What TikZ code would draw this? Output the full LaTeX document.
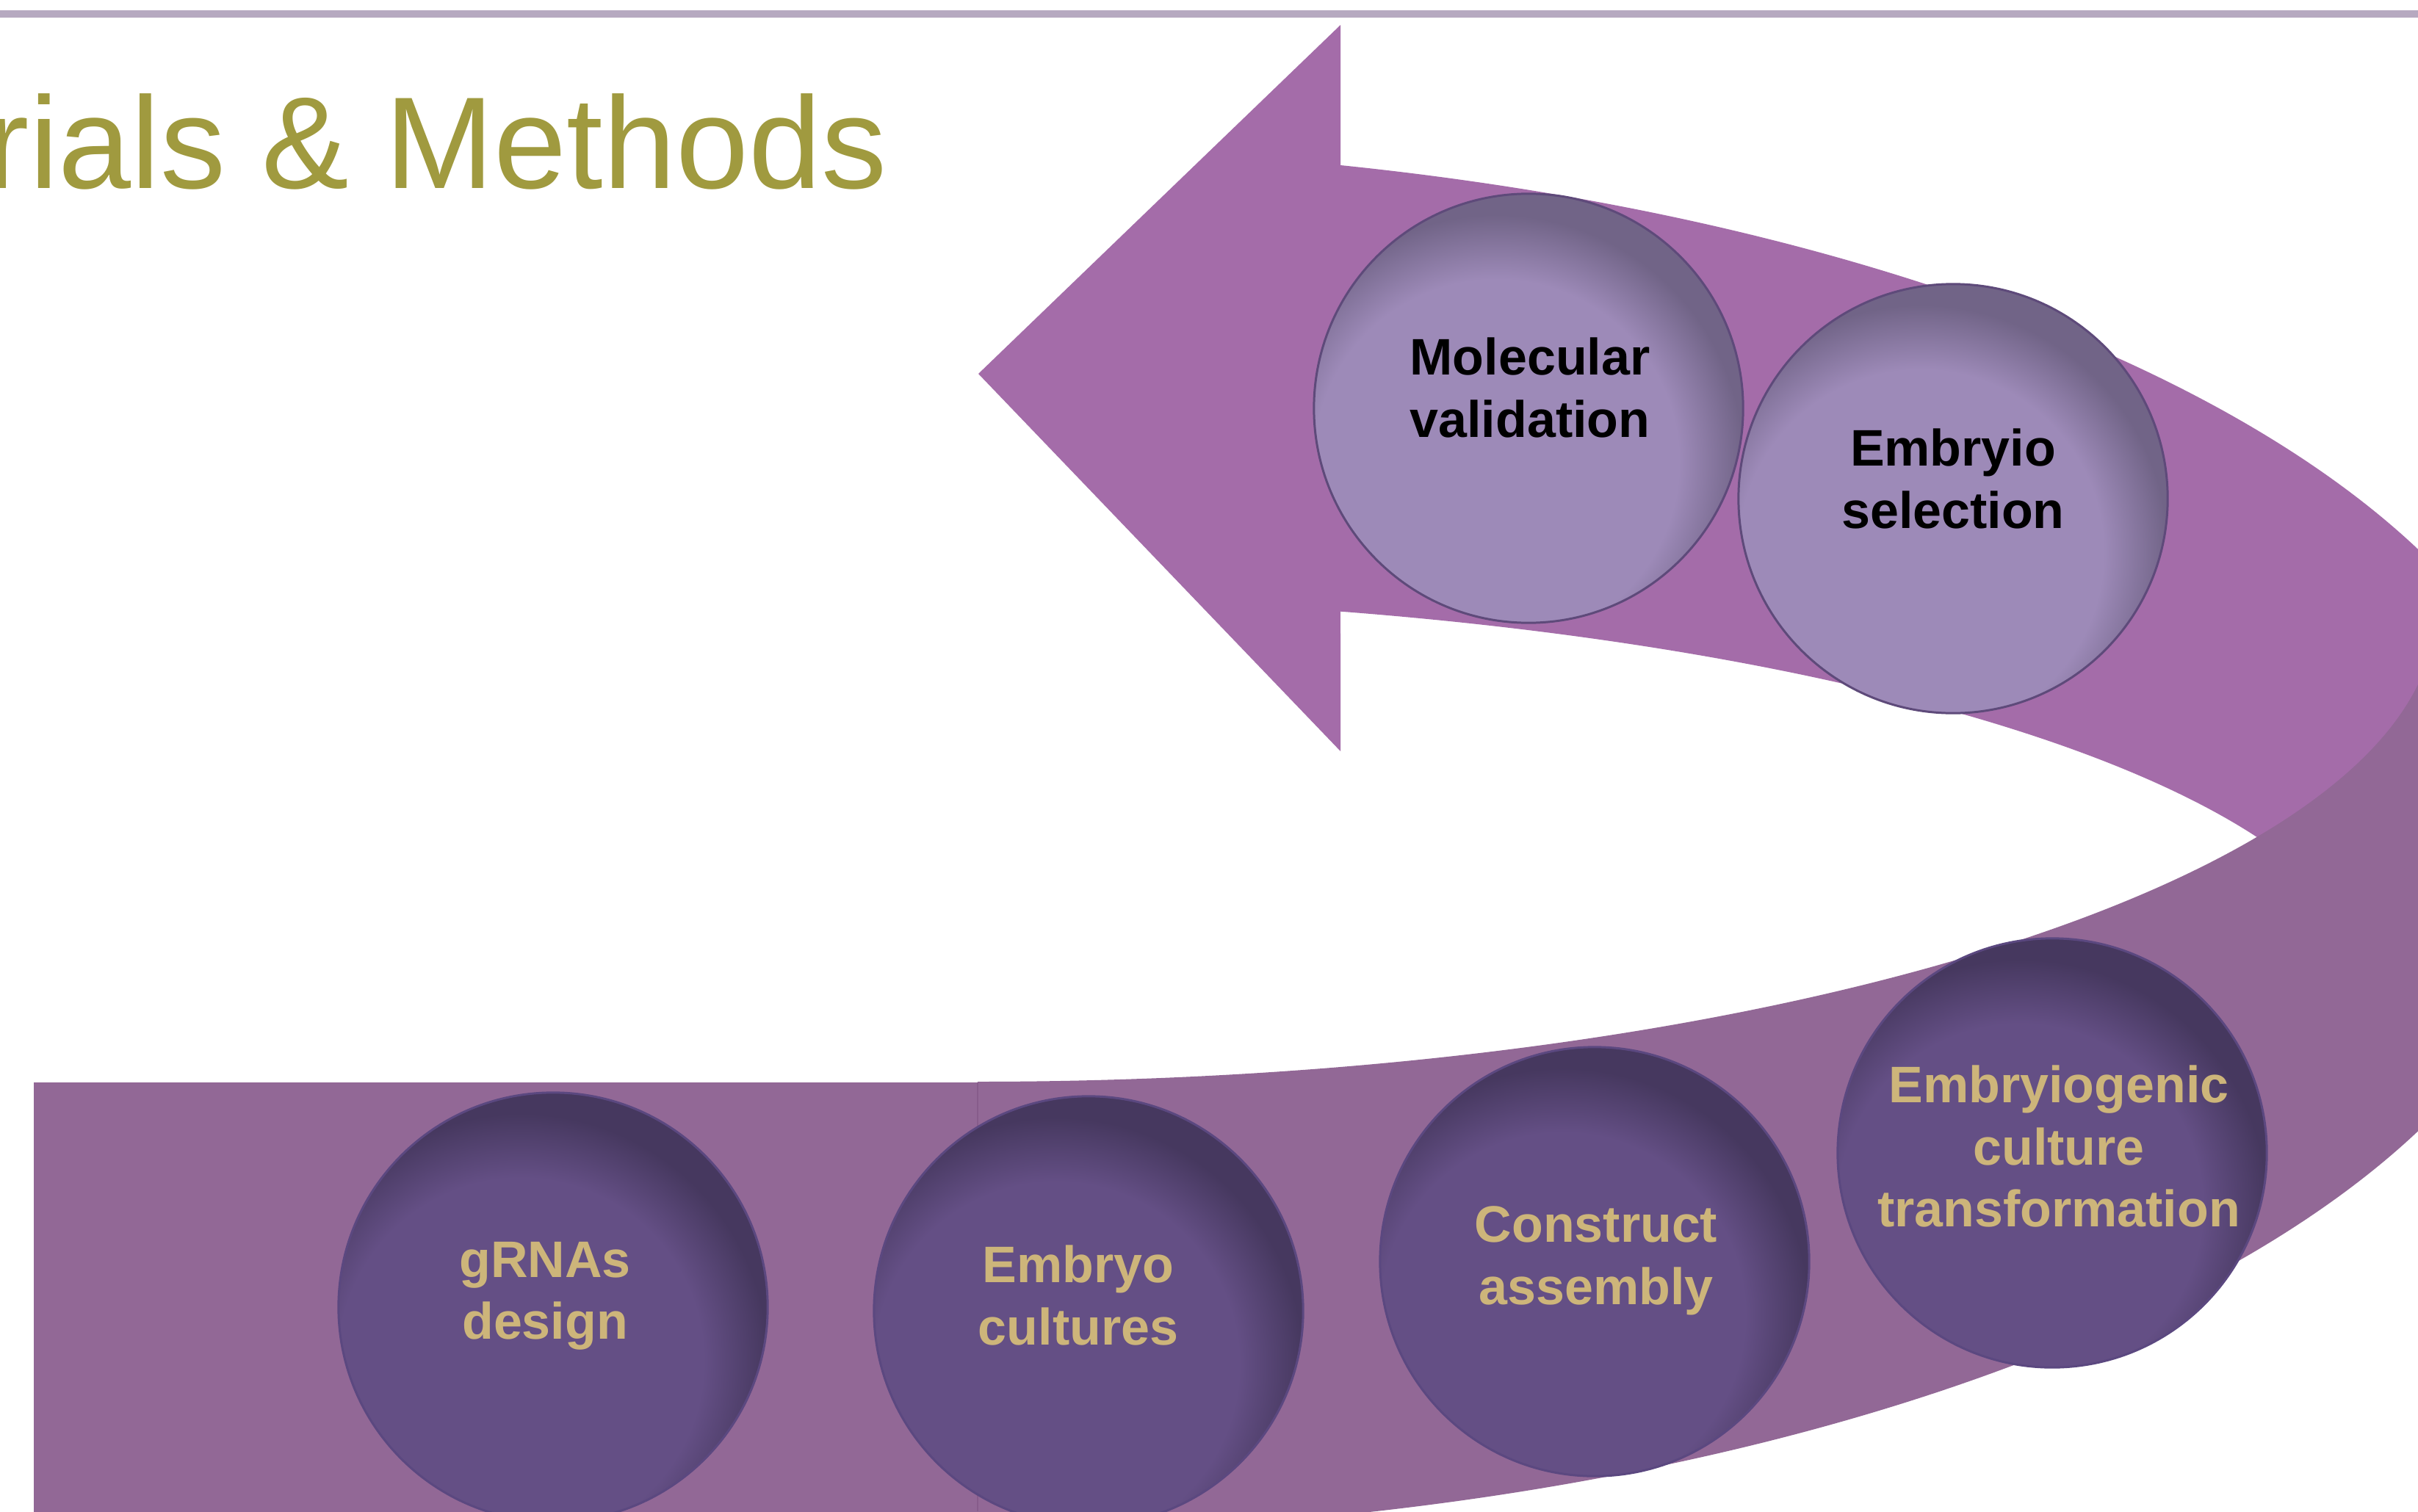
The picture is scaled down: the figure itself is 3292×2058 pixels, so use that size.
\documentclass[tikz,border=0pt]{standalone}
\usepackage{fontspec}
\setmainfont{Liberation Sans}
\usetikzlibrary{calc}

\definecolor{ribbonfar}{HTML}{A46CA9}
\definecolor{ribbonnear}{HTML}{926896}
\definecolor{seamline}{HTML}{875C8B}
\definecolor{topline}{HTML}{B6A9C0}
\definecolor{titleolive}{HTML}{A09A3F}
\definecolor{labelgold}{HTML}{CDB57A}
\definecolor{lilac}{HTML}{9D8AB8}
\definecolor{lilacshadow}{HTML}{716487}
\definecolor{lilacrim}{HTML}{5E4A7A}
\definecolor{plum}{HTML}{644F85}
\definecolor{plumshadow}{HTML}{46385F}
\definecolor{plumrim}{HTML}{5B4880}
\colorlet{lilacmid}{lilacshadow!50!lilac}
\colorlet{plummid}{plumshadow!50!plum}

% soft inner shadow of the discs: flat centre, darker rim (shading centre is shifted down-left)
\pgfdeclareradialshading{lilacglow}{\pgfpointorigin}{%
  color(0bp)=(lilac); color(14.2bp)=(lilac); color(16.7bp)=(lilacmid);
  color(19.2bp)=(lilacshadow); color(50bp)=(lilacshadow)}
\pgfdeclareradialshading{plumglow}{\pgfpointorigin}{%
  color(0bp)=(plum); color(14.2bp)=(plum); color(16.7bp)=(plummid);
  color(19.2bp)=(plumshadow); color(50bp)=(plumshadow)}

\tikzset{
  disc/.style={circle, minimum size=5.84cm, inner sep=0pt, line width=0.85pt},
  upperdisc/.style={disc, draw=lilacrim, path picture={
      \shade[shading=lilacglow] ($(path picture bounding box.center)+(-44,73)$)
        +(-438,-438) rectangle +(438,438);}},
  lowerdisc/.style={disc, draw=plumrim, path picture={
      \shade[shading=plumglow] ($(path picture bounding box.center)+(-44,73)$)
        +(-438,-438) rectangle +(438,438);}},
  disclabel/.style={inner sep=0pt, align=center,
      font=\fontsize{19.9pt}{24pt}\selectfont\bfseries},
  upperlabel/.style={disclabel, text=black},
  lowerlabel/.style={disclabel, text=labelgold},
}

\begin{document}
\begin{tikzpicture}[x=0.01cm, y=-0.01cm]
\useasboundingbox (0,0) rectangle (3292,2058);
\clip (0,0) rectangle (3292,2058);
\fill[white] (0,0) rectangle (3292,2058);

% rule across the top
\fill[topline] (0,14) rectangle (3292,24);

% far side of the ribbon, ending in the arrowhead
\fill[ribbonfar] (1332,509) -- (1825,34) -- (1825,225)
  arc[start angle=-76.78, end angle=0, x radius=2160, y radius=944]
  -- (3231,1357)
  arc[start angle=0, end angle=-74.93, x radius=1900, y radius=543]
  -- (1825,1023) -- cycle;

% near side of the ribbon: straight tail and the bend
\fill[ribbonnear] (46,1474) rectangle (1331,2100);
\fill[ribbonnear] (1331,1473)
  arc[start angle=90, end angle=0, x radius=1985, y radius=641]
  -- (3491,1144)
  arc[start angle=0, end angle=90, x radius=2160, y radius=944]
  -- cycle;
\draw[seamline, line width=0.3pt] (1331,1474) -- (1331,2058);

% heading
\node[anchor=base east, inner sep=0pt, text=titleolive,
      font=\fontsize{50.6pt}{60pt}\selectfont] (title) at (1208,257) {rials \& Methods};

% steps on the far side
\node[upperdisc] (molecular) at (2081,556) {};
\node[upperdisc] (selection) at (2659,679) {};

% steps on the near side
\node[lowerdisc] (grnas) at (753,1780) {};
\node[lowerdisc] (cultures) at (1482,1785) {};
\node[lowerdisc] (construct) at (2171,1718) {};
\node[lowerdisc] (transform) at (2794,1570) {};

% step labels
\node[upperlabel] (molecular-text) at (2083,528) {Molecular\\validation};
\node[upperlabel] (selection-text) at (2659,652) {Embryio\\selection};
\node[lowerlabel] (grnas-text) at (742,1765) {gRNAs\\design};
\node[lowerlabel] (cultures-text) at (1468,1764) {Embryo\\cultures};
\node[lowerlabel] (construct-text) at (2173,1717) {Construct\\assembly};
\node[lowerlabel] (transform-text) at (2803,1561) {Embryiogenic\\culture\\transformation};
\end{tikzpicture}
\end{document}
